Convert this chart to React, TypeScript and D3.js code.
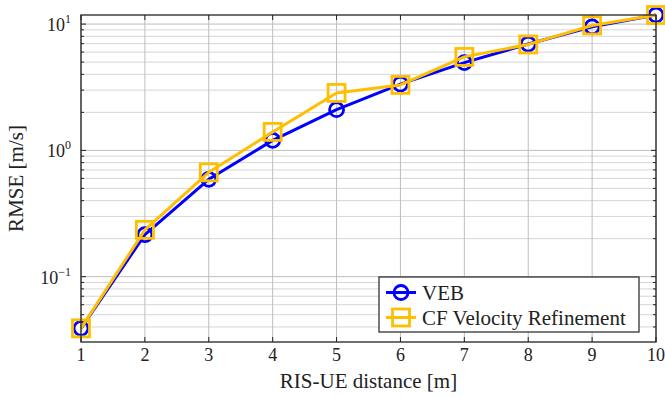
import React from 'react';
import * as d3 from 'd3';

// RIS-UE distance [m]
const distances = [1, 2, 3, 4, 5, 6, 7, 8, 9, 10];
// RMSE [m/s] per method
const vebRmse = [0.039, 0.215, 0.59, 1.2, 2.1, 3.35, 4.95, 6.95, 9.5, 11.8];
const cfRmse = [0.039, 0.235, 0.67, 1.4, 2.85, 3.3, 5.5, 6.9, 9.75, 11.8];

const xTicks = [1, 2, 3, 4, 5, 6, 7, 8, 9, 10];
const yMajorTicks = [0.1, 1, 10];
const yMajorExp = ['−1', '0', '1'];

const seriesNames = ['VEB', 'CF Velocity Refinement'];
const seriesColors = ['#0000ff', '#ffbf00'];

const width = 665;
const height = 397;
const margin = { left: 81, right: 9, top: 15, bottom: 55 };
const font = "'Liberation Serif', 'Times New Roman', 'DejaVu Serif', serif";

const App: React.FC = () => {
  const x = d3.scaleLinear().domain([1, 10]).range([margin.left, width - margin.right]);
  const y = d3.scaleLog().domain([0.0304, 11.8]).range([height - margin.bottom, margin.top]);

  const [x0, x1] = x.range();
  const [y0, y1] = y.range(); // y0 bottom, y1 top

  // minor log ticks inside domain
  const minor: number[] = [];
  [0.01, 0.1, 1, 10].forEach((dec) => {
    for (let k = 2; k <= 9; k++) {
      const v = dec * k;
      if (v >= y.domain()[0] && v <= y.domain()[1]) minor.push(v);
    }
  });

  const line = d3.line<number>()
    .x((_d, i) => x(distances[i]))
    .y((d) => y(d));

  const legendX = 379;
  const legendY = 277;
  const legendW = 260;
  const legendH = 55;

  const circle = (cx: number, cy: number, key: string) => (
    <circle key={key} cx={cx} cy={cy} r={7} fill="none" stroke={seriesColors[0]} strokeWidth={2.8} />
  );
  const square = (cx: number, cy: number, key: string) => (
    <rect key={key} x={cx - 8.5} y={cy - 8.5} width={17} height={17} fill="none" stroke={seriesColors[1]} strokeWidth={2.8} />
  );

  return (
    <svg width={width} height={height}
      style={{ position: 'absolute', left: 0, top: 0, background: '#fff', fontFamily: font }}>
      {/* minor y grid */}
      {minor.map((v) => (
        <line key={`mg${v}`} x1={x0} x2={x1} y1={y(v)} y2={y(v)} stroke="#d6d6d6" strokeWidth={1} />
      ))}
      {/* major grids */}
      {yMajorTicks.map((v) => (
        <line key={`Mg${v}`} x1={x0} x2={x1} y1={y(v)} y2={y(v)} stroke="#bdbdbd" strokeWidth={1} />
      ))}
      {xTicks.map((v) => (
        <line key={`xg${v}`} x1={x(v)} x2={x(v)} y1={y0} y2={y1} stroke="#bdbdbd" strokeWidth={1} />
      ))}

      {/* ticks inside on both sides */}
      {xTicks.map((v) => (
        <g key={`xt${v}`}>
          <line x1={x(v)} x2={x(v)} y1={y0} y2={y0 - 5} stroke="#222" strokeWidth={1} />
          <line x1={x(v)} x2={x(v)} y1={y1} y2={y1 + 5} stroke="#222" strokeWidth={1} />
          <text x={x(v)} y={y0 + 19} fontSize={18} textAnchor="middle" fill="#222">{v}</text>
        </g>
      ))}
      {minor.map((v) => (
        <g key={`mt${v}`}>
          <line x1={x0} x2={x0 + 3} y1={y(v)} y2={y(v)} stroke="#222" strokeWidth={1} />
          <line x1={x1} x2={x1 - 3} y1={y(v)} y2={y(v)} stroke="#222" strokeWidth={1} />
        </g>
      ))}
      {yMajorTicks.map((v, i) => (
        <g key={`yt${v}`}>
          <line x1={x0} x2={x0 + 5} y1={y(v)} y2={y(v)} stroke="#222" strokeWidth={1} />
          <line x1={x1} x2={x1 - 5} y1={y(v)} y2={y(v)} stroke="#222" strokeWidth={1} />
          <text x={71} y={y(v) + 7} fontSize={18} textAnchor="end" fill="#222">
            10<tspan fontSize={12} dy={-8}>{yMajorExp[i]}</tspan>
          </text>
        </g>
      ))}

      {/* series */}
      <path d={line(vebRmse) || ''} fill="none" stroke={seriesColors[0]} strokeWidth={3} strokeLinejoin="round" />
      {vebRmse.map((v, i) => circle(x(distances[i]), y(v), `c${i}`))}
      <path d={line(cfRmse) || ''} fill="none" stroke={seriesColors[1]} strokeWidth={3} strokeLinejoin="round" />
      {cfRmse.map((v, i) => square(x(distances[i]), y(v), `s${i}`))}

      {/* frame */}
      <rect x={x0} y={y1} width={x1 - x0} height={y0 - y1} fill="none" stroke="#222" strokeWidth={1.3} />

      {/* axis labels */}
      <text x={(x0 + x1) / 2} y={388} fontSize={21} textAnchor="middle" fill="#222">RIS-UE distance [m]</text>
      <text transform={`translate(23,${(y0 + y1) / 2}) rotate(-90)`} fontSize={21} textAnchor="middle" fill="#222">
        RMSE [m/s]
      </text>

      {/* legend */}
      <rect x={legendX} y={legendY} width={legendW} height={legendH} fill="#fff" stroke="#222" strokeWidth={1.2} />
      {seriesNames.map((name, i) => {
        const cy = legendY + 15.5 + i * 25;
        return (
          <g key={name}>
            <line x1={386} x2={416} y1={cy} y2={cy} stroke={seriesColors[i]} strokeWidth={3} />
            {i === 0 ? circle(401, cy, 'lc') : square(401, cy, 'ls')}
            <text x={422} y={cy + 7} fontSize={21} fill="#222">{name}</text>
          </g>
        );
      })}
    </svg>
  );
};

export default App;
